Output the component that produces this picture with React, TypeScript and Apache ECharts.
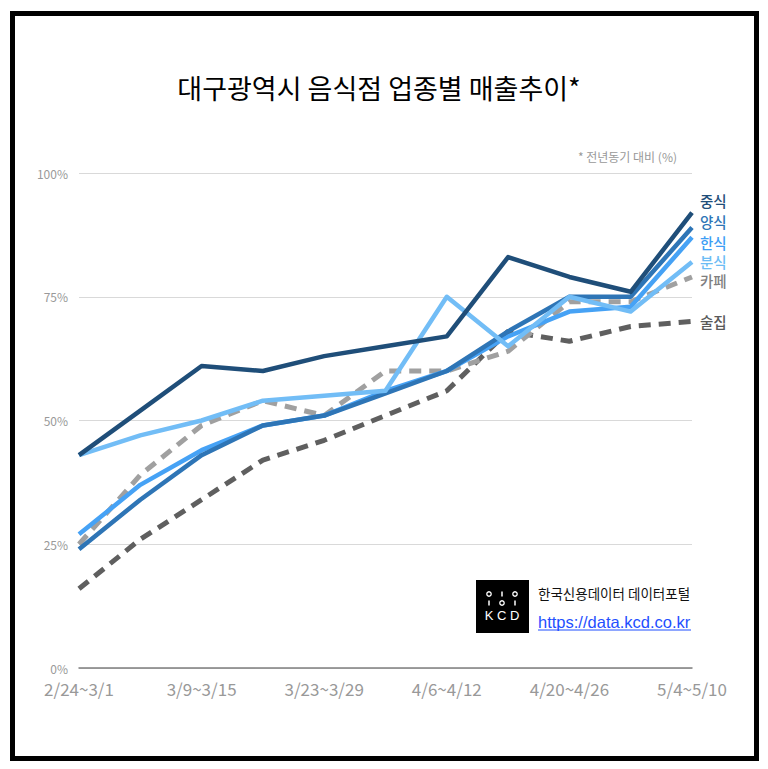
import React, { useEffect, useRef } from "react";
import * as echarts from "echarts";

const categories = [
  "2/24~3/1", "3/2~3/8", "3/9~3/15", "3/16~3/22", "3/23~3/29", "3/30~4/5",
  "4/6~4/12", "4/13~4/19", "4/20~4/26", "4/27~5/3", "5/4~5/10",
];
const chinese = [43, 52, 61, 60, 63, 65, 67, 83, 79, 76, 92];
const western = [24, 34, 43, 49, 51, 55.5, 60, 68, 75, 75, 89];
const korean = [27, 37, 44, 49, 51, 56, 60, 67, 72, 73, 87];
const snack = [43, 47, 50, 54, 55, 56, 75, 65, 75, 72, 82];
const cafe = [25, 39, 49, 54, 51, 60, 60, 64, 74, 74, 79];
const pub = [16, 26, 34, 42, 46, 51, 56, 68, 66, 69, 70];
const yTicks = [0, 25, 50, 75, 100];

const FONT = '"Noto Sans CJK KR", "Noto Sans", sans-serif';

export default function App() {
  const ref = useRef<HTMLDivElement>(null);
  useEffect(() => {
    if (!ref.current) return;
    const chart = echarts.init(ref.current, undefined, { renderer: "svg" });
    const mk = (
      name: string,
      data: number[],
      color: string,
      labelColor: string,
      dy: number,
      dashed: boolean,
      z: number
    ) => ({
      name,
      type: "line",
      data,
      symbol: "none",
      z,
      lineStyle: {
        color,
        width: dashed ? 5 : 4.5,
        type: dashed ? [12, 8] : "solid",
        cap: "butt",
        join: "round",
      },
      endLabel: {
        show: true,
        formatter: name,
        color: labelColor,
        fontFamily: FONT,
        fontSize: 14.5,
        lineHeight: 15,
        fontWeight: 500,
        distance: 8,
        offset: [0, dy],
      },
    });
    chart.setOption({
      animation: false,
      backgroundColor: "#ffffff",
      textStyle: { fontFamily: FONT },
      grid: { left: 79, right: 76, top: 173, bottom: 101, containLabel: false },
      xAxis: {
        type: "category",
        data: categories,
        boundaryGap: false,
        axisLine: { show: true, lineStyle: { color: "#7f7f7f", width: 1.5 } },
        axisTick: { show: false },
        axisLabel: {
          interval: 1,
          color: "#999999",
          fontSize: 17,
          fontFamily: FONT,
          margin: 12,
        },
        splitLine: { show: false },
      },
      yAxis: {
        type: "value",
        min: yTicks[0],
        max: yTicks[yTicks.length - 1],
        interval: 25,
        axisLine: { show: false },
        axisTick: { show: false },
        axisLabel: {
          formatter: "{value}%",
          color: "#999999",
          fontSize: 12,
          fontFamily: FONT,
          margin: 11,
        },
        splitLine: { show: true, lineStyle: { color: "#d9d9d9", width: 1 } },
      },
      series: [
        mk("술집", pub, "#5f5f5f", "#595959", 0, true, 2),
        mk("카페", cafe, "#a0a0a0", "#7f7f7f", 4, true, 2),
        mk("한식", korean, "#46a2f5", "#3d9ef5", 5, false, 3),
        mk("양식", western, "#2e75b6", "#2e75b6", -6, false, 3),
        mk("분식", snack, "#72bdf6", "#6cbcf5", -0.5, false, 4),
        mk("중식", chinese, "#1f4e79", "#1f4e79", -12, false, 5),
      ],
      graphic: [
        {
          type: "rect",
          shape: { x: 12.5, y: 13.5, width: 744, height: 745 },
          style: { fill: "none", stroke: "#000000", lineWidth: 5 },
          silent: true,
        },
        {
          type: "text",
          x: 379,
          y: 87,
          style: {
            text: "대구광역시 음식점 업종별 매출추이*",
            fontFamily: FONT,
            fontSize: 27,
            fill: "#000000",
            align: "center",
            verticalAlign: "middle",
          },
        },
        {
          type: "text",
          x: 677,
          y: 156,
          style: {
            text: "* 전년동기 대비 (%)",
            fontFamily: FONT,
            fontSize: 12,
            fill: "#999999",
            align: "right",
            verticalAlign: "middle",
          },
        },
        {
          type: "rect",
          shape: { x: 476, y: 580, width: 53, height: 53 },
          style: { fill: "#000000" },
        },
        { type: "circle", shape: { cx: 489, cy: 594, r: 2.2 }, style: { fill: "none", stroke: "#fff", lineWidth: 1.3 } },
        { type: "line", shape: { x1: 502, y1: 591.5, x2: 502, y2: 596.5 }, style: { stroke: "#fff", lineWidth: 1.5 } },
        { type: "circle", shape: { cx: 515, cy: 594, r: 2.2 }, style: { fill: "none", stroke: "#fff", lineWidth: 1.3 } },
        { type: "line", shape: { x1: 489, y1: 600.5, x2: 489, y2: 605.5 }, style: { stroke: "#fff", lineWidth: 1.5 } },
        { type: "circle", shape: { cx: 502, cy: 603, r: 2.2 }, style: { fill: "none", stroke: "#fff", lineWidth: 1.3 } },
        { type: "line", shape: { x1: 515, y1: 600.5, x2: 515, y2: 605.5 }, style: { stroke: "#fff", lineWidth: 1.5 } },
        {
          type: "text",
          x: 502,
          y: 615,
          style: {
            text: "K C D",
            fontFamily: '"Liberation Sans", Arial, sans-serif',
            fontSize: 13,
            fill: "#ffffff",
            align: "center",
            verticalAlign: "middle",
          },
        },
        {
          type: "text",
          x: 538,
          y: 593,
          style: {
            text: "한국신용데이터 데이터포털",
            fontFamily: FONT,
            fontSize: 13.5,
            fill: "#111111",
            align: "left",
            verticalAlign: "middle",
          },
        },
        {
          type: "text",
          x: 538,
          y: 622,
          style: {
            text: "https://data.kcd.co.kr",
            fontFamily: '"Liberation Sans", Arial, sans-serif',
            fontSize: 16.5,
            fill: "#1f4fff",
            align: "left",
            verticalAlign: "middle",
          },
        },
        {
          type: "line",
          shape: { x1: 538, y1: 630, x2: 691, y2: 630 },
          style: { stroke: "#1f4fff", lineWidth: 1 },
        },
      ],
    });
    return () => chart.dispose();
  }, []);
  return (
    <div
      ref={ref}
      style={{
        position: "fixed",
        left: 0,
        top: 0,
        width: 768,
        height: 769,
        background: "#ffffff",
      }}
    />
  );
}
